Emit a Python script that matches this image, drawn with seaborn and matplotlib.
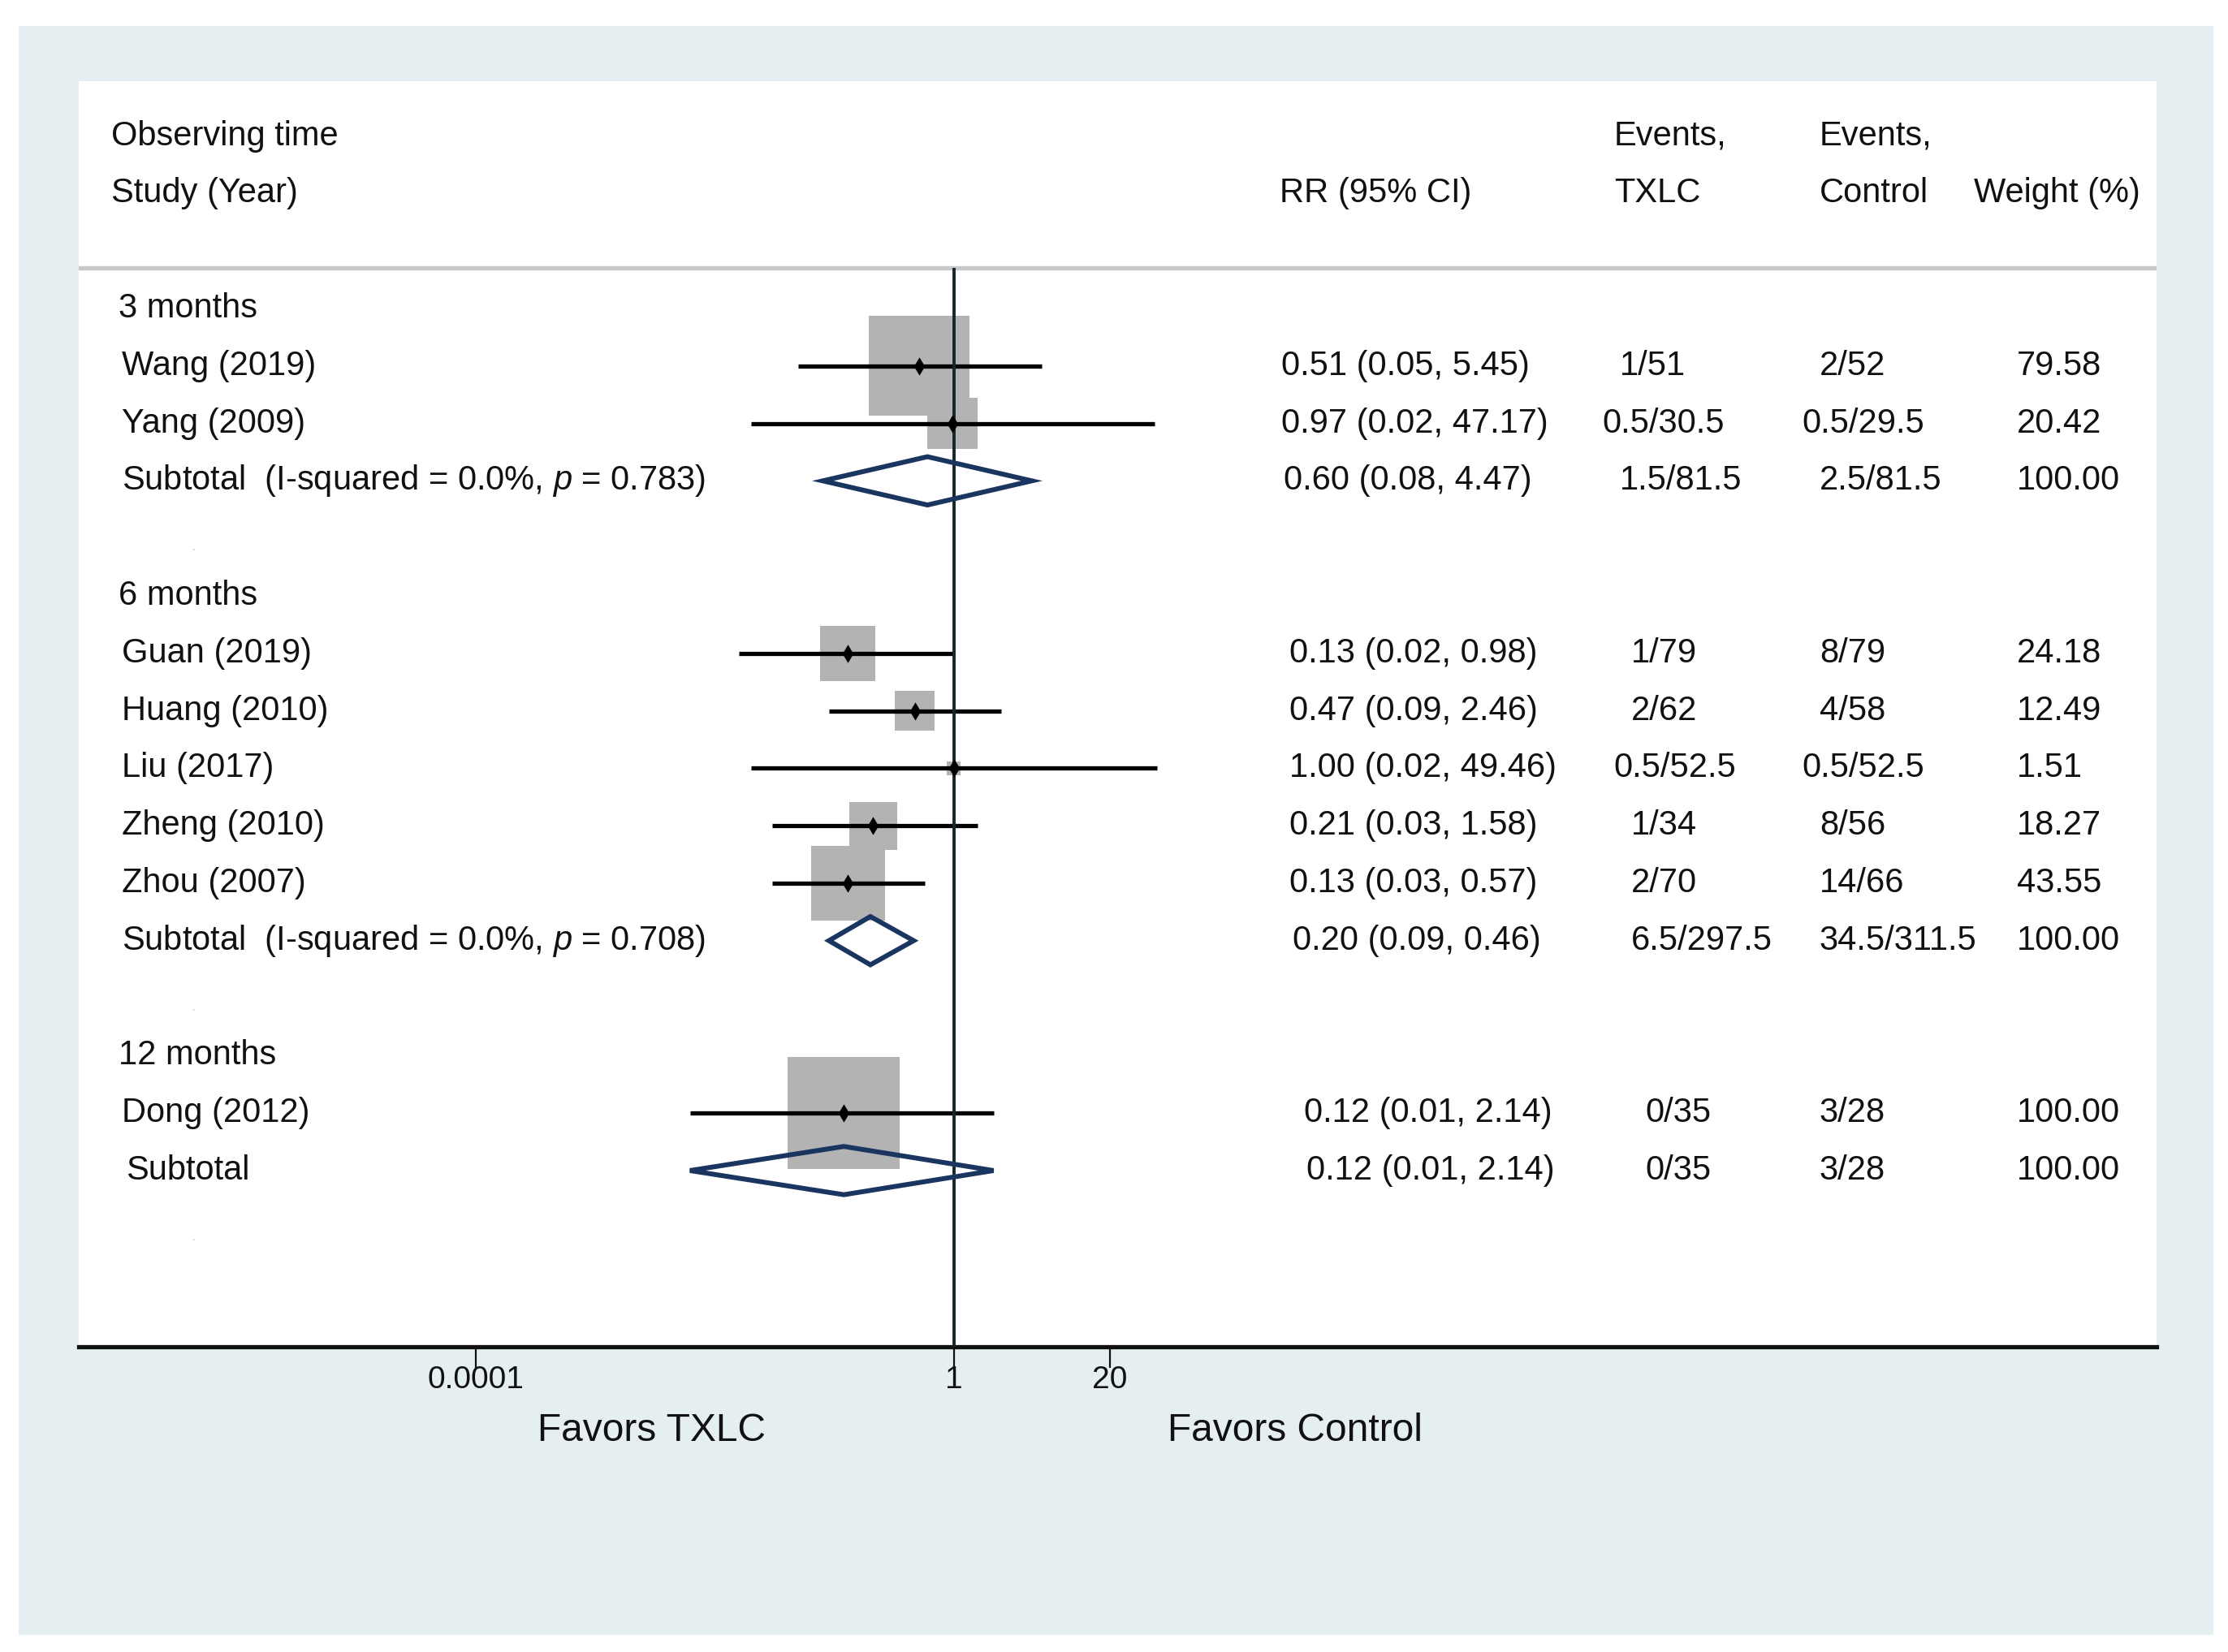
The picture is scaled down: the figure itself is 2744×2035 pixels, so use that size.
import numpy as np
import pandas as pd
import matplotlib
matplotlib.use('Agg')
import matplotlib.pyplot as plt
import matplotlib.transforms as mtransforms
from matplotlib.patches import Rectangle, Polygon
from matplotlib.ticker import NullLocator
import seaborn as sns

sns.set_style("white")
plt.rcParams['font.family'] = ['Liberation Sans', 'DejaVu Sans']
plt.rcParams['mathtext.fontset'] = 'custom'
plt.rcParams['mathtext.it'] = 'Liberation Sans:italic'
plt.rcParams['mathtext.rm'] = 'Liberation Sans'

# --- data ---
groups = ["3 months", "6 months", "12 months"]

study = ["Wang (2019)", "Yang (2009)",
         "Guan (2019)", "Huang (2010)", "Liu (2017)", "Zheng (2010)", "Zhou (2007)",
         "Dong (2012)"]
study_group = ["3 months", "3 months",
               "6 months", "6 months", "6 months", "6 months", "6 months",
               "12 months"]
rr = [0.51, 0.97, 0.13, 0.47, 1.00, 0.21, 0.13, 0.12]
ci_lo = [0.05, 0.02, 0.016, 0.09, 0.02, 0.03, 0.03, 0.0062]
ci_hi = [5.45, 47.17, 0.98, 2.46, 49.46, 1.58, 0.57, 2.14]
weight = [79.58, 20.42, 24.18, 12.49, 1.51, 18.27, 43.55, 100.00]
rr_text = ["0.51 (0.05, 5.45)", "0.97 (0.02, 47.17)",
           "0.13 (0.02, 0.98)", "0.47 (0.09, 2.46)", "1.00 (0.02, 49.46)",
           "0.21 (0.03, 1.58)", "0.13 (0.03, 0.57)",
           "0.12 (0.01, 2.14)"]
ev_txlc = ["1/51", "0.5/30.5", "1/79", "2/62", "0.5/52.5", "1/34", "2/70", "0/35"]
ev_ctrl = ["2/52", "0.5/29.5", "8/79", "4/58", "0.5/52.5", "8/56", "14/66", "3/28"]

sub_label = ["Subtotal  (I-squared = 0.0%, $p$ = 0.783)",
             "Subtotal  (I-squared = 0.0%, $p$ = 0.708)",
             "Subtotal"]
sub_rr = [0.60, 0.20, 0.12]
sub_lo = [0.08, 0.09, 0.0062]
sub_hi = [4.47, 0.46, 2.14]
sub_text = ["0.60 (0.08, 4.47)", "0.20 (0.09, 0.46)", "0.12 (0.01, 2.14)"]
sub_txlc = ["1.5/81.5", "6.5/297.5", "0/35"]
sub_ctrl = ["2.5/81.5", "34.5/311.5", "3/28"]
sub_weight = ["100.00", "100.00", "100.00"]

# --- row layout: group header, studies, subtotal, blank ---
df = pd.DataFrame({"study": study, "group": study_group, "rr": rr,
                   "lo": ci_lo, "hi": ci_hi, "weight": weight,
                   "rr_text": rr_text, "txlc": ev_txlc, "ctrl": ev_ctrl})
group_row, sub_row = {}, {}
rows = []
r = 0
for g in groups:
    group_row[g] = r
    r += 1
    for i in df.index[df.group == g]:
        rows.append((i, r))
        r += 1
    sub_row[g] = r
    r += 2
df["row"] = [rw for _, rw in sorted(rows)]

# reference image is 1560 x 1157 "display" px
W, H = 1560.0, 1157.0
fig = plt.figure(figsize=(27.44, 20.35), dpi=100, facecolor='white')
fig.patches.append(Rectangle((13 / W, 1 - 1145 / H), (1550 - 13) / W, (1145 - 18) / H,
                             transform=fig.transFigure, facecolor='#e5eef0',
                             edgecolor='none', zorder=-5))

ax = fig.add_axes([55 / W, 1 - 943 / H, (1510 - 55) / W, (943 - 57) / H])
ax.set_facecolor('white')
ax.set_xscale('log')

# header separator and null line
ax.axhline(-0.70, color='#c5c7c9', lw=3.8, zorder=1)
ax.vlines(1, -0.70, 18.06, color='#17262c', lw=2.8, zorder=3)

# weight squares
sns.scatterplot(data=df, x="rr", y="row", size="weight", sizes=(0, 9900),
                size_norm=(0, 100), marker='s', color='#b3b3b3',
                linewidth=0, legend=False, ax=ax, zorder=1)
# CI lines
ax.hlines(df["row"], df["lo"], df["hi"], color='black', lw=3.8, zorder=2)
# point estimates
sns.scatterplot(data=df, x="rr", y="row", marker='d', s=130, color='black',
                linewidth=0, legend=False, ax=ax, zorder=4)

# subtotal diamonds
for k, g in enumerate(groups):
    y = sub_row[g]
    h = 0.42
    ax.add_patch(Polygon([(sub_lo[k], y), (sub_rr[k], y - h), (sub_hi[k], y),
                          (sub_rr[k], y + h)], closed=True, fill=False,
                         edgecolor='#1b3561', lw=4.3, joinstyle='miter', zorder=5))

ax.set_xlim(10 ** -7.319, 10 ** 10.054)
ax.set_ylim(18.06, -3.95)
for s in ['top', 'left', 'right']:
    ax.spines[s].set_visible(False)
ax.spines['bottom'].set_linewidth(3.8)
ax.spines['bottom'].set_color('#111111')
ax.set_xticks([0.0001, 1, 20])
ax.set_xticklabels(["0.0001", "1", "20"])
ax.xaxis.set_minor_locator(NullLocator())
ax.tick_params(axis='x', bottom=True, length=19, width=1.6, direction='out',
               pad=-2, labelsize=28, colors='#111111')
ax.set_yticks([])
ax.set_xlabel('')
ax.set_ylabel('')

# --- text columns ---
tr = mtransforms.blended_transform_factory(fig.transFigure, ax.transData)
fs = 30


def put(x, y, s, ha='left'):
    ax.text(x / W, y, s, transform=tr, fontsize=fs, ha=ha, va='center',
            color='#111111')


def shift(s):
    # entries starting with "0.5/" sit a little further left in the original
    return -12 if s.startswith("0.5/") else 0


put(78, -3, "Observing time")
put(78, -2, "Study (Year)")
put(896, -2, "RR (95% CI)")
put(1130, -3, "Events,")
put(1130, -2, "TXLC")
put(1274, -3, "Events,")
put(1274, -2, "Control")
put(1382, -2, "Weight (%)")

rr_x = {"3 months": 897, "6 months": 903, "12 months": 913}
tx_x = {"3 months": 1134, "6 months": 1142, "12 months": 1152}
for k, g in enumerate(groups):
    put(83, group_row[g], g)
    for _, row in df[df.group == g].iterrows():
        y = row["row"]
        put(85, y, row["study"])
        put(rr_x[g], y, row["rr_text"])
        put(tx_x[g] + shift(row["txlc"]), y, row["txlc"])
        put(1274 + shift(row["ctrl"]), y, row["ctrl"])
        put(1412, y, f"{row['weight']:.2f}")
    y = sub_row[g]
    put(85 if g != "12 months" else 88, y, sub_label[k])
    put(rr_x[g] + 2, y, sub_text[k])
    put(tx_x[g], y, sub_txlc[k])
    put(1274, y, sub_ctrl[k])
    put(1412, y, sub_weight[k])
    # faint stray dot left in each blank spacer row of the original
    ax.text(135 / W, sub_row[g] + 1.15, ".", transform=tr, fontsize=14,
            ha='center', va='center', color='#d0d0d0')

fig.text(456 / W, 1 - 1002 / H, "Favors TXLC", fontsize=34.5, ha='center',
         va='center', color='#111111')
fig.text(907 / W, 1 - 1002 / H, "Favors Control", fontsize=34.5, ha='center',
         va='center', color='#111111')

fig.savefig('out.png', dpi=100, facecolor='white')
